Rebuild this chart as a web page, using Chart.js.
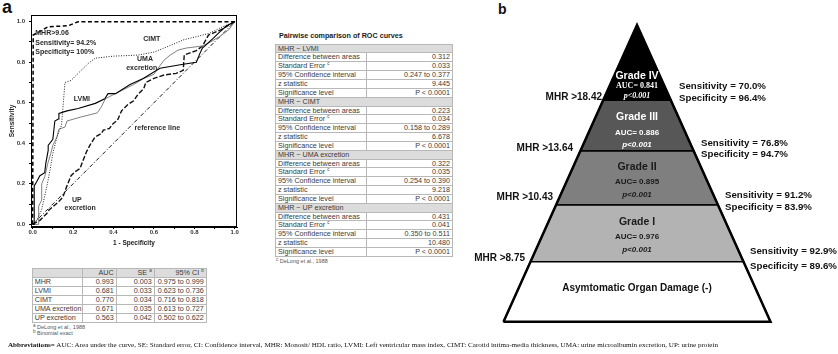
<!DOCTYPE html>
<html>
<head>
<meta charset="utf-8">
<title>ROC curves and MHR pyramid</title>
<script src="https://cdn.jsdelivr.net/npm/chart.js@4.4.0/dist/chart.umd.min.js"></script>
<style>
    body { margin: 0; background: #fff; }
    #page { position: relative; width: 838px; height: 354px; overflow: hidden; background: #fff;
            font-family: Arial, "Liberation Sans", sans-serif; }
    .abs { position: absolute; }
    .panel { font-weight: bold; color: #111; line-height: 1; }
    table { border-collapse: collapse; table-layout: fixed; color: #3a3a3a; }
    td { border: 1px solid #b8b8b8; padding: 0 2px; white-space: nowrap; overflow: hidden; }
    .num { text-align: right; }
    .hd td { background: #dcdcdc; }
    #aucTable { font-size: 7.2px; }
    #aucTable tr { height: 9px; }
    #aucTable td { line-height: 8px; }
    #pairTable { font-size: 7.2px; }
    #pairTable tr { height: 8.85px; }
    #pairTable td { line-height: 7.8px; }
    .note { font-size: 5.5px; color: #555; line-height: 6px; }
    sup { font-size: 4.5px; vertical-align: top; line-height: 4px; }
    #pairTitle { font-size: 7.2px; font-weight: bold; color: #222; line-height: 9px; }
    #abbr { font-family: "Liberation Serif", "Times New Roman", serif; font-size: 7.1px; color: #111;
            white-space: nowrap; line-height: 9px; }
</style>
</head>
<body>
<div id="page">
    <div class="abs panel" style="left:2px;top:-2px;font-size:18px;">a</div>
    <div class="abs panel" style="left:498px;top:1.5px;font-size:14px;">b</div>

    <canvas id="roc" class="abs" style="left:0;top:0;" width="250" height="252"></canvas>

    <table id="aucTable" class="abs" style="left:31.7px;top:267.7px;width:174px;"></table>
    <div class="abs note" style="left:33px;top:323.5px;"><sup>a</sup> DeLong et al., 1988</div>
    <div class="abs note" style="left:33px;top:329.5px;"><sup>b</sup> Binomial exact</div>

    <div id="pairTitle" class="abs" style="left:279px;top:30.5px;">Pairwise comparison of ROC curves</div>
    <table id="pairTable" class="abs" style="left:275px;top:43.6px;width:177px;"></table>
    <div id="pairNote" class="abs note" style="left:276px;top:258px;"><sup>c</sup> DeLong et al., 1988</div>

    <canvas id="pyr" class="abs" style="left:470px;top:0;" width="368" height="354"></canvas>

    <div id="abbr" class="abs" style="left:8px;top:340.5px;"><b>Abbreviations=</b> AUC: Area under the curve, SE: Standard error, CI: Confidence interval, MHR: Monosit/ HDL ratio, LVMI: Left ventricular mass index, CIMT: Carotid intima-media thickness, UMA: urine microalbumin excretion, UP: urine protein</div>
</div>

<script>
// ---- ROC curves (1 - specificity, sensitivity) ----
var rocTicks = [0, 0.1, 0.2, 0.3, 0.4, 0.5, 0.6, 0.7, 0.8, 0.9, 1];

var refX = [0, 1];
var refY = [0, 1];

var mhrX = [0, 0.003, 0.077, 0.176, 0.225, 1];
var mhrY = [0, 0.934, 0.975, 0.98, 1, 1];

var lvmiX = [0, 0.008, 0.008, 0.02, 0.036, 0.06, 0.065, 0.077, 0.077, 0.1, 0.11, 0.127, 0.13, 0.17, 0.225, 0.31, 0.357, 0.373, 0.41, 0.482, 0.547, 0.63, 0.745, 0.81, 0.826, 0.84, 0.893, 0.926, 0.96, 1];
var lvmiY = [0, 0, 0.19, 0.21, 0.24, 0.255, 0.30, 0.365, 0.39, 0.42, 0.51, 0.52, 0.547, 0.56, 0.572, 0.597, 0.62, 0.645, 0.645, 0.69, 0.72, 0.77, 0.79, 0.80, 0.84, 0.87, 0.918, 0.95, 0.98, 1];

var cimtX = [0, 0.02, 0.044, 0.07, 0.086, 0.10, 0.12, 0.143, 0.16, 0.19, 0.225, 0.275, 0.31, 0.4, 0.52, 0.6, 0.646, 0.745, 0.81, 0.875, 0.94, 1];
var cimtY = [0, 0.02, 0.07, 0.185, 0.267, 0.35, 0.43, 0.49, 0.70, 0.71, 0.745, 0.794, 0.82, 0.83, 0.835, 0.85, 0.868, 0.91, 0.926, 0.943, 0.975, 1];

var umaX = [0, 0.03, 0.03, 0.045, 0.045, 0.06, 0.075, 0.09, 0.1, 0.12, 0.13, 0.16, 0.17, 0.24, 0.32, 0.34, 0.36, 0.40, 0.44, 0.5, 0.55, 0.6, 0.62, 0.65, 0.68, 0.72, 0.76, 0.84, 0.88, 0.93, 0.97, 1];
var umaY = [0, 0, 0.09, 0.12, 0.2, 0.235, 0.3, 0.35, 0.39, 0.43, 0.47, 0.48, 0.51, 0.53, 0.55, 0.58, 0.62, 0.64, 0.66, 0.69, 0.72, 0.74, 0.77, 0.81, 0.835, 0.86, 0.87, 0.88, 0.9, 0.93, 0.96, 1];

var upX = [0, 0.036, 0.07, 0.08, 0.127, 0.15, 0.168, 0.19, 0.21, 0.234, 0.25, 0.266, 0.283, 0.308, 0.34, 0.35, 0.38, 0.398, 0.42, 0.44, 0.47, 0.5, 0.52, 0.55, 0.56, 0.6, 0.65, 0.71, 0.745, 0.75, 0.81, 0.84, 0.87, 0.93, 1];
var upY = [0, 0.02, 0.053, 0.07, 0.11, 0.135, 0.185, 0.24, 0.26, 0.275, 0.316, 0.357, 0.39, 0.43, 0.448, 0.465, 0.473, 0.497, 0.514, 0.56, 0.59, 0.61, 0.64, 0.67, 0.70, 0.72, 0.737, 0.745, 0.76, 0.836, 0.857, 0.88, 0.934, 0.96, 1];

// ---- AUC table ----
var aucNames = ['MHR', 'LVMI', 'CIMT', 'UMA excretion', 'UP excretion'];
var aucValues = ['0.993', '0.681', '0.770', '0.671', '0.563'];
var aucSE = ['0.003', '0.033', '0.034', '0.035', '0.042'];
var aucCI = ['0.975 to 0.999', '0.623 to 0.736', '0.716 to 0.818', '0.613 to 0.727', '0.502 to 0.622'];

// ---- pairwise comparison table ----
var pairNames = ['MHR ~ LVMI', 'MHR ~ CIMT', 'MHR ~ UMA excretion', 'MHR ~ UP excretion'];
var pairDiff = ['0.312', '0.223', '0.322', '0.431'];
var pairSE = ['0.033', '0.034', '0.035', '0.041'];
var pairCI = ['0.247 to 0.377', '0.158 to 0.289', '0.254 to 0.390', '0.350 to 0.511'];
var pairZ = ['9.445', '6.678', '9.218', '10.480'];
var pairP = ['P < 0.0001', 'P < 0.0001', 'P < 0.0001', 'P < 0.0001'];

// ---- pyramid (grade I at the bottom) ----
var gradeNames = ['Grade I', 'Grade II', 'Grade III', 'Grade IV'];
var gradeAUC = ['0.976', '0.895', '0.886', '0.841'];
var gradeP = ['p<0.001', 'p<0.001', 'p<0.001', 'p<0.001'];
var cutoffs = ['MHR >8.75', 'MHR >10.43', 'MHR >13.64', 'MHR >18.42'];
var sensitivity = ['92.9%', '91.2%', '76.8%', '70.0%'];
var specificity = ['89.6%', '83.9%', '94.7%', '96.4%'];
var levels = [0, 20.2, 39.3, 57.5, 74.6, 100];   // band boundaries, % of pyramid height

// ----------------------------------------------------------------------
function pts(xs, ys) {
    return xs.map(function (x, i) { return {x: x, y: ys[i]}; });
}

function curve(label, xs, ys, color, width, dash) {
    return {
        label: label,
        data: pts(xs, ys),
        showLine: true,
        borderColor: color,
        borderWidth: width,
        borderDash: dash,
        pointRadius: 0,
        fill: false,
        tension: 0
    };
}

// tables
var rows = '<colgroup><col style="width:50px"><col style="width:34px"><col style="width:38px"><col style="width:52px"></colgroup>';
rows += '<tr class="hd"><td></td><td class="num">AUC</td><td class="num">SE <sup>a</sup></td><td class="num">95% CI <sup>b</sup></td></tr>';
aucNames.forEach(function (name, i) {
    rows += '<tr><td>' + name + '</td><td class="num">' + aucValues[i] + '</td><td class="num">' + aucSE[i] +
        '</td><td class="num">' + aucCI[i] + '</td></tr>';
});
document.getElementById('aucTable').innerHTML = rows;

var prow = '<colgroup><col style="width:91px"><col style="width:86px"></colgroup>';
pairNames.forEach(function (name, i) {
    prow += '<tr class="hd"><td colspan="2">' + name + '</td></tr>';
    prow += '<tr><td>Difference between areas</td><td class="num">' + pairDiff[i] + '</td></tr>';
    prow += '<tr><td>Standard Error <sup>c</sup></td><td class="num">' + pairSE[i] + '</td></tr>';
    prow += '<tr><td>95% Confidence interval</td><td class="num">' + pairCI[i] + '</td></tr>';
    prow += '<tr><td>z statistic</td><td class="num">' + pairZ[i] + '</td></tr>';
    prow += '<tr><td>Significance level</td><td class="num">' + pairP[i] + '</td></tr>';
});
document.getElementById('pairTable').innerHTML = prow;

// ROC chart
var rocNotes = [
    {text: 'MHR>9.06', x: 0.013, y: 0.943, align: 'left'},
    {text: 'Sensitivity= 94.2%', x: 0.013, y: 0.897, align: 'left'},
    {text: 'Specificity= 100%', x: 0.013, y: 0.852, align: 'left'},
    {text: 'CIMT', x: 0.589, y: 0.913, align: 'center'},
    {text: 'UMA', x: 0.556, y: 0.814, align: 'center'},
    {text: 'excretion', x: 0.54, y: 0.77, align: 'center'},
    {text: 'LVMI', x: 0.244, y: 0.616, align: 'center'},
    {text: 'reference line', x: 0.617, y: 0.473, align: 'center'},
    {text: 'UP', x: 0.219, y: 0.122, align: 'center'},
    {text: 'excretion', x: 0.235, y: 0.082, align: 'center'}
];

var rocFrame = {
    id: 'rocFrame',
    afterDatasetsDraw: function (chart) {
        var a = chart.chartArea, ctx = chart.ctx;
        ctx.save();
        ctx.strokeStyle = '#000';
        ctx.lineWidth = 1;
        ctx.strokeRect(a.left + 0.5, a.top + 0.5, a.right - a.left - 1, a.bottom - a.top - 1);
        ctx.fillStyle = '#2a2a2a';
        ctx.font = 'bold 7px Arial, "Liberation Sans", sans-serif';
        ctx.textBaseline = 'middle';
        rocNotes.forEach(function (n) {
            ctx.textAlign = n.align;
            ctx.fillText(n.text, chart.scales.x.getPixelForValue(n.x), chart.scales.y.getPixelForValue(n.y));
        });
        ctx.restore();
    }
};

function tickLabel(v) {
    var k = Math.round(v * 10);
    return k % 2 === 0 ? (k / 10).toFixed(1) : '';
}

function setTicks(scale) {
    scale.ticks = rocTicks.map(function (v) { return {value: v}; });
}

new Chart(document.getElementById('roc'), {
    type: 'scatter',
    data: {
        datasets: [
            curve('MHR', mhrX, mhrY, '#000', 1.5, [4, 2.5]),
            curve('LVMI', lvmiX, lvmiY, '#000', 1.1, []),
            curve('CIMT', cimtX, cimtY, '#222', 1, [1, 1.5]),
            curve('UMA excretion', umaX, umaY, '#808080', 1, []),
            curve('UP excretion', upX, upY, '#111', 1.4, [5, 2]),
            curve('reference line', refX, refY, '#000', 0.9, [4, 2, 1, 2])
        ]
    },
    options: {
        responsive: false,
        animation: false,
        layout: {padding: {top: 15, right: 13, left: 0, bottom: 0}},
        plugins: {legend: {display: false}, tooltip: {enabled: false}},
        scales: {
            x: {
                type: 'linear', min: -0.008, max: 1.011,
                afterFit: function (s) { s.height = 25; },
                afterBuildTicks: setTicks,
                grid: {drawOnChartArea: false, tickLength: 2, color: '#000'},
                border: {color: '#000'},
                ticks: {font: {size: 6, weight: 'bold'}, color: '#333', padding: 0, maxRotation: 0, autoSkip: false, callback: tickLabel},
                title: {display: true, text: '1 - Specificity', font: {size: 6.5, weight: 'bold'}, color: '#222', padding: {top: 0, bottom: 5}}
            },
            y: {
                type: 'linear', min: -0.013, max: 1.033,
                afterFit: function (s) { s.width = 31; },
                afterBuildTicks: setTicks,
                grid: {drawOnChartArea: false, tickLength: 2, color: '#000'},
                border: {color: '#000'},
                ticks: {font: {size: 6, weight: 'bold'}, color: '#333', padding: 4, autoSkip: false, callback: tickLabel},
                title: {display: true, text: 'Sensitivity', font: {size: 6.5, weight: 'bold'}, color: '#222', padding: {top: 8, bottom: 0}}
            }
        }
    },
    plugins: [rocFrame]
});

// Pyramid chart
var pyrBaseHalf = 133.5;
var bandColors = ['#ffffff', '#b3b3b3', '#7f7f7f', '#575757', '#000000'];

function halfWidth(h) { return pyrBaseHalf * (1 - h / 100); }

var pyrSets = [{
    label: 'outline',
    data: [{x: -halfWidth(0), y: 0}, {x: 0, y: 100}, {x: halfWidth(0), y: 0}, {x: -halfWidth(0), y: 0}],
    showLine: true, borderColor: '#000', borderWidth: 2.5, pointRadius: 0, fill: false, clip: false, tension: 0
}];
for (var b = 0; b < levels.length - 1; b++) {
    var lo = levels[b], hi = levels[b + 1];
    pyrSets.push({
        label: 'band ' + b,
        data: [{x: -halfWidth(lo), y: lo}, {x: halfWidth(lo), y: lo}, {x: halfWidth(hi), y: hi},
               {x: -halfWidth(hi), y: hi}, {x: -halfWidth(lo), y: lo}],
        showLine: true, borderColor: '#000', borderWidth: 1.5, pointRadius: 0,
        fill: 'shape', backgroundColor: bandColors[b], clip: false, tension: 0
    });
}

// text placement (pyramid units: x in px from centre, y in % of height)
var gradeNameY = [33.7, 52.2, 69.1, 82.8];
var gradeAucY = [28.6, 47.2, 63.5, 79.4];
var gradePY = [24.2, 42.7, 59.6, 76.1];
var cutoffX = [-112, -84, -64, -35];
var cutoffY = [21.5, 42.1, 58.5, 75.5];
var sensX = [113, 88, 64, 42];
var sensY = [23.6, 42.7, 60.1, 79.2];
var specY = [18.5, 38.4, 56.4, 75.3];
var textColors = ['#1a1a1a', '#1a1a1a', '#ffffff', '#ffffff'];

var pyramidText = {
    id: 'pyramidText',
    afterDatasetsDraw: function (chart) {
        var ctx = chart.ctx, sx = chart.scales.x, sy = chart.scales.y;
        var sans = 'Arial, "Liberation Sans", sans-serif';
        var serif = '"Liberation Serif", "Times New Roman", serif';
        function put(text, x, y, font, color, align) {
            ctx.font = font;
            ctx.fillStyle = color;
            ctx.textAlign = align;
            ctx.fillText(text, sx.getPixelForValue(x), sy.getPixelForValue(y));
        }
        ctx.save();
        ctx.textBaseline = 'middle';
        gradeNames.forEach(function (g, i) {
            var top = i === 3;
            put(g, 0, gradeNameY[i], 'bold 10.5px ' + sans, textColors[i], 'center');
            put('AUC= ' + gradeAUC[i], 0, gradeAucY[i], 'bold 8px ' + (top ? serif : sans), textColors[i], 'center');
            put(gradeP[i], 0, gradePY[i], 'italic bold 8px ' + (top ? serif : sans), textColors[i], 'center');
            put(cutoffs[i], cutoffX[i], cutoffY[i], 'bold 10px ' + sans, '#111', 'right');
            put('Sensitivity = ' + sensitivity[i], sensX[i], sensY[i], 'bold 9.7px ' + sans, '#111', 'left');
            put('Specificity = ' + specificity[i], sensX[i], specY[i], 'bold 9.7px ' + sans, '#111', 'left');
        });
        put('Asymtomatic Organ Damage (-)', 0, 11.3, 'bold 10px ' + sans, '#111', 'center');
        ctx.restore();
    }
};

new Chart(document.getElementById('pyr'), {
    type: 'scatter',
    data: {datasets: pyrSets},
    options: {
        responsive: false,
        animation: false,
        layout: {padding: {top: 25, bottom: 32.3, left: 0, right: 0}},
        plugins: {legend: {display: false}, tooltip: {enabled: false}},
        scales: {
            x: {display: false, min: -167, max: 201},
            y: {display: false, min: 0, max: 100}
        }
    },
    plugins: [pyramidText]
});
</script>
</body>
</html>
